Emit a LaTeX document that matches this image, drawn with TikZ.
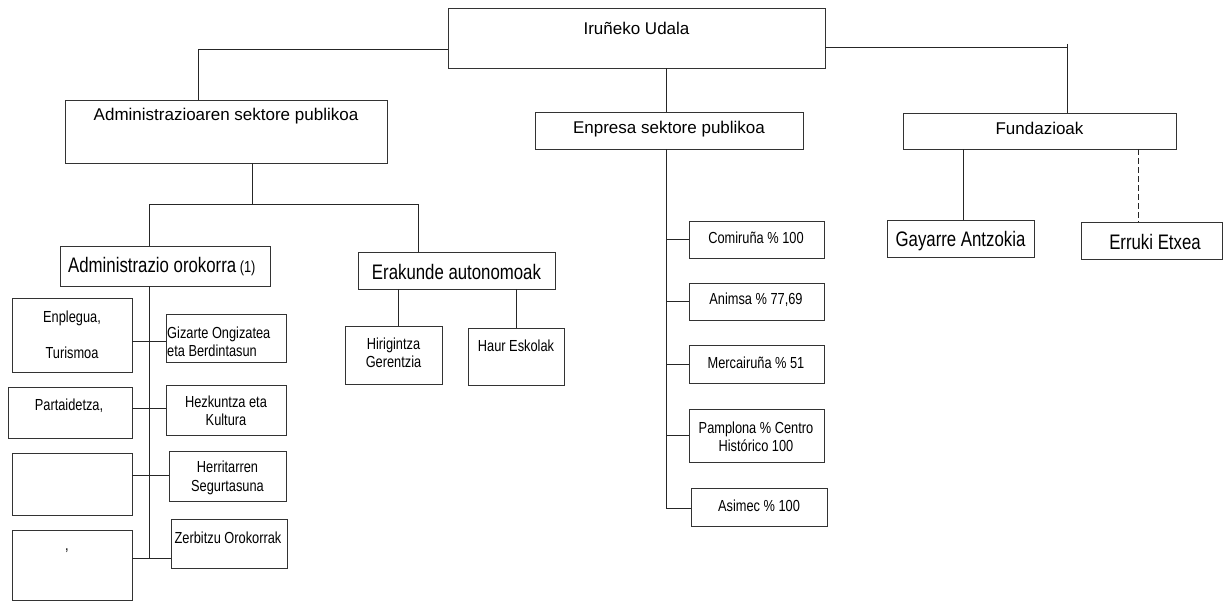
\documentclass[tikz,border=0pt]{standalone}
\usepackage{fontspec}
\setmainfont{Liberation Sans}
\newfontfamily\nar[FakeStretch=0.8]{Liberation Sans}
\usetikzlibrary{fit}
\begin{document}
\begin{tikzpicture}[x=1pt,y=-1pt,
  box/.style={draw=black!80, line width=0.9pt, inner sep=0pt},
  ln/.style={draw=black!85, line width=0.9pt},
  dsh/.style={draw=black!85, line width=0.9pt, dash pattern=on 6pt off 3pt},
  big/.style={font=\fontsize{17}{20}\selectfont, inner sep=0pt},
  cnd/.style={font=\nar\fontsize{21}{24}\selectfont, inner sep=0pt},
  sml/.style={font=\nar\fontsize{16}{18.5}\selectfont, inner sep=0pt, align=center},
]
\useasboundingbox (0,0) rectangle (1224,601);
\fill[white] (0,0) rectangle (1224,601);

% ---------- boxes ----------
\node[box, fit={(448,8) (825,68)}] (top) {};
\node[box, fit={(65,100) (387,163)}] (adm) {};
\node[box, fit={(535,112) (803,149)}] (enp) {};
\node[box, fit={(903,113) (1176,149)}] (fund) {};
\node[box, fit={(60,246) (270,286)}] (ao) {};
\node[box, fit={(358,252) (555,289)}] (era) {};
\node[box, fit={(345,326) (442,384)}] (hir) {};
\node[box, fit={(468,328) (564,385)}] (haur) {};
\node[box, fit={(12,298) (132,372)}] (b1) {};
\node[box, fit={(8,387) (132,438)}] (b2) {};
\node[box, fit={(12,453) (132,515)}] (b3) {};
\node[box, fit={(12,530) (132,600)}] (b4) {};
\node[box, fit={(166,314) (286,362)}] (g1) {};
\node[box, fit={(166,385) (286,435)}] (g2) {};
\node[box, fit={(169,451) (286,501)}] (g3) {};
\node[box, fit={(171,519) (287,568)}] (g4) {};
\node[box, fit={(689,221) (824,258)}] (com) {};
\node[box, fit={(689,283) (824,320)}] (ani) {};
\node[box, fit={(689,345) (824,383)}] (mer) {};
\node[box, fit={(689,409) (824,462)}] (pam) {};
\node[box, fit={(691,488) (827,526)}] (asi) {};
\node[box, fit={(887,220) (1034,257)}] (gay) {};
\node[box, fit={(1081,222) (1222,259)}] (err) {};

% ---------- texts ----------
\node[big] (ttop) at (636.5,28) {Iruñeko Udala};
\node[big] (tadm) at (226,116) {Administrazioaren sektore publikoa};
\node[big] (tenp) at (669,129) {Enpresa sektore publikoa};
\node[big] (tfund) at (1039.5,128) {Fundazioak};
\node[cnd, anchor=west] (tao) at (68,267) {Administrazio orokorra\,{\nar\fontsize{16}{18}\selectfont(1)}};
\node[cnd] (tera) at (456.5,272) {Erakunde autonomoak};
\node[sml] (thir) at (393.5,353) {Hirigintza\\Gerentzia};
\node[sml] (thaur) at (516,346) {Haur Eskolak};
\node[sml] (tb1) at (72,335) {Enplegua,\\[17.5pt]Turismoa};
\node[sml] (tb2) at (69,406) {Partaidetza,};
\node[sml] (tb4) at (67,551) {,};
\node[sml, align=left, anchor=west] (tg1) at (167,342) {Gizarte Ongizatea\\eta Berdintasun};
\node[sml] (tg2) at (226,411) {Hezkuntza eta\\Kultura};
\node[sml] (tg3) at (227.5,478) {Herritarren\\Segurtasuna};
\node[sml] (tg4) at (228,538) {Zerbitzu Orokorrak};
\node[sml] (tcom) at (756,238) {Comiruña \% 100};
\node[sml] (tani) at (756,300) {Animsa \% 77,69};
\node[sml] (tmer) at (756,363) {Mercairuña \% 51};
\node[sml] (tpam) at (756,437) {Pamplona \% Centro\\Histórico 100};
\node[sml] (tasi) at (759,506) {Asimec \% 100};
\node[cnd] (tgay) at (960.5,241) {Gayarre Antzokia};
\node[cnd] (terr) at (1155,242) {Erruki Etxea};

% ---------- junction coordinates ----------
\coordinate (jL) at (198,49);
\coordinate (jE) at (666,0);
\coordinate (jR) at (1067,47);
\coordinate (jRt) at (1067,44);
\coordinate (ja) at (252,204);
\coordinate (jaL) at (149,204);
\coordinate (jaR) at (418,204);
\coordinate (e1) at (398,0);
\coordinate (e2) at (516,0);
\coordinate (av) at (149,558);
\coordinate (h1) at (149,341);
\coordinate (h2) at (149,408);
\coordinate (h3) at (149,475);
\coordinate (ev) at (666,508);
\coordinate (f1) at (963,0);
\coordinate (f2) at (1138,0);

% ---------- connectors ----------
\draw[ln] (top.west |- jL) -- (jL) -- (adm.north -| jL);
\draw[ln] (top.south -| jE) -- (enp.north -| jE);
\draw[ln] (top.east |- jR) -- (jR);
\draw[ln] (jRt) -- (fund.north -| jR);

\draw[ln] (adm.south -| ja) -- (ja);
\draw[ln] (ao.north -| jaL) -- (jaL) -- (jaR) -- (era.north -| jaR);

\draw[ln] (era.south -| e1) -- (hir.north -| e1);
\draw[ln] (era.south -| e2) -- (haur.north -| e2);

\draw[ln] (ao.south -| av) -- (av);
\draw[ln] (b1.east |- h1) -- (g1.west |- h1);
\draw[ln] (b2.east |- h2) -- (g2.west |- h2);
\draw[ln] (b3.east |- h3) -- (g3.west |- h3);
\draw[ln] (b4.east |- av) -- (g4.west |- av);

\draw[ln] (enp.south -| ev) -- (ev) -- (asi.west |- ev);
\draw[ln] (com.west) -- (com.west -| ev);
\draw[ln] (ani.west) -- (ani.west -| ev);
\draw[ln] (mer.west) -- (mer.west -| ev);
\draw[ln] (pam.west) -- (pam.west -| ev);

\draw[ln] (fund.south -| f1) -- (gay.north -| f1);
\draw[dsh] (fund.south -| f2) -- (err.north -| f2);
\end{tikzpicture}
\end{document}
